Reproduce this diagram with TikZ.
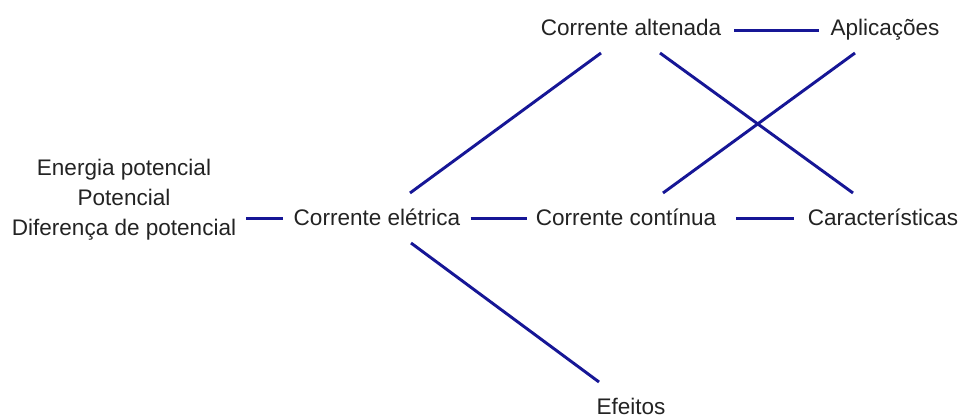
\documentclass[tikz,border=0pt]{standalone}
\usepackage{fontspec}
\setmainfont{Liberation Sans}
\definecolor{linkblue}{RGB}{22,22,150}
\definecolor{txt}{RGB}{35,35,35}
\begin{document}
\begin{tikzpicture}[x=0.75pt,y=-0.75pt,
  lbl/.style={inner sep=0pt, anchor=base, text=txt, font=\fontsize{16.9}{22.5}\selectfont},
  link/.style={draw=linkblue, line width=2.2pt}]
\path[use as bounding box, fill=white] (0,0) rectangle (963,417);
\node[lbl] (lb) at (124,235) {\begin{tabular}[b]{@{}c@{}}Energia potencial\\Potencial\\Diferença de potencial\end{tabular}};
\node[lbl] (ce) at (377,225) {Corrente elétrica};
\node[lbl] (cc) at (626,225) {Corrente contínua};
\node[lbl] (car) at (883,225) {Características};
\node[lbl] (ca) at (631,36) {Corrente altenada};
\node[lbl] (ap) at (885,36) {Aplicações};
\node[lbl] (ef) at (631,414) {Efeitos};
\coordinate (lbr) at (lb.east |- ce.base);
% horizontal connectors
\draw[link] ([shift={(10,-6.5)}]lbr) -- ([shift={(-10,-6.5)}]ce.base west);
\draw[link] ([shift={(10,-6.5)}]ce.base east) -- ([shift={(-9,-6.5)}]cc.base west);
\draw[link] ([shift={(20,-6.5)}]cc.base east) -- ([shift={(-14,-6.5)}]car.base west);
\draw[link] ([shift={(13,-5.5)}]ca.base east) -- ([shift={(-11,-5.5)}]ap.base west);
% diagonal connectors
\draw[link] ([shift={(33,-32)}]ce.base) -- ([shift={(-30,17)}]ca.base);
\draw[link] ([shift={(34,18)}]ce.base) -- ([shift={(-32,-32)}]ef.base);
\draw[link] ([shift={(29,17)}]ca.base) -- ([shift={(-30,-32)}]car.base);
\draw[link] ([shift={(37,-32)}]cc.base) -- ([shift={(-30,17)}]ap.base);
\end{tikzpicture}
\end{document}
